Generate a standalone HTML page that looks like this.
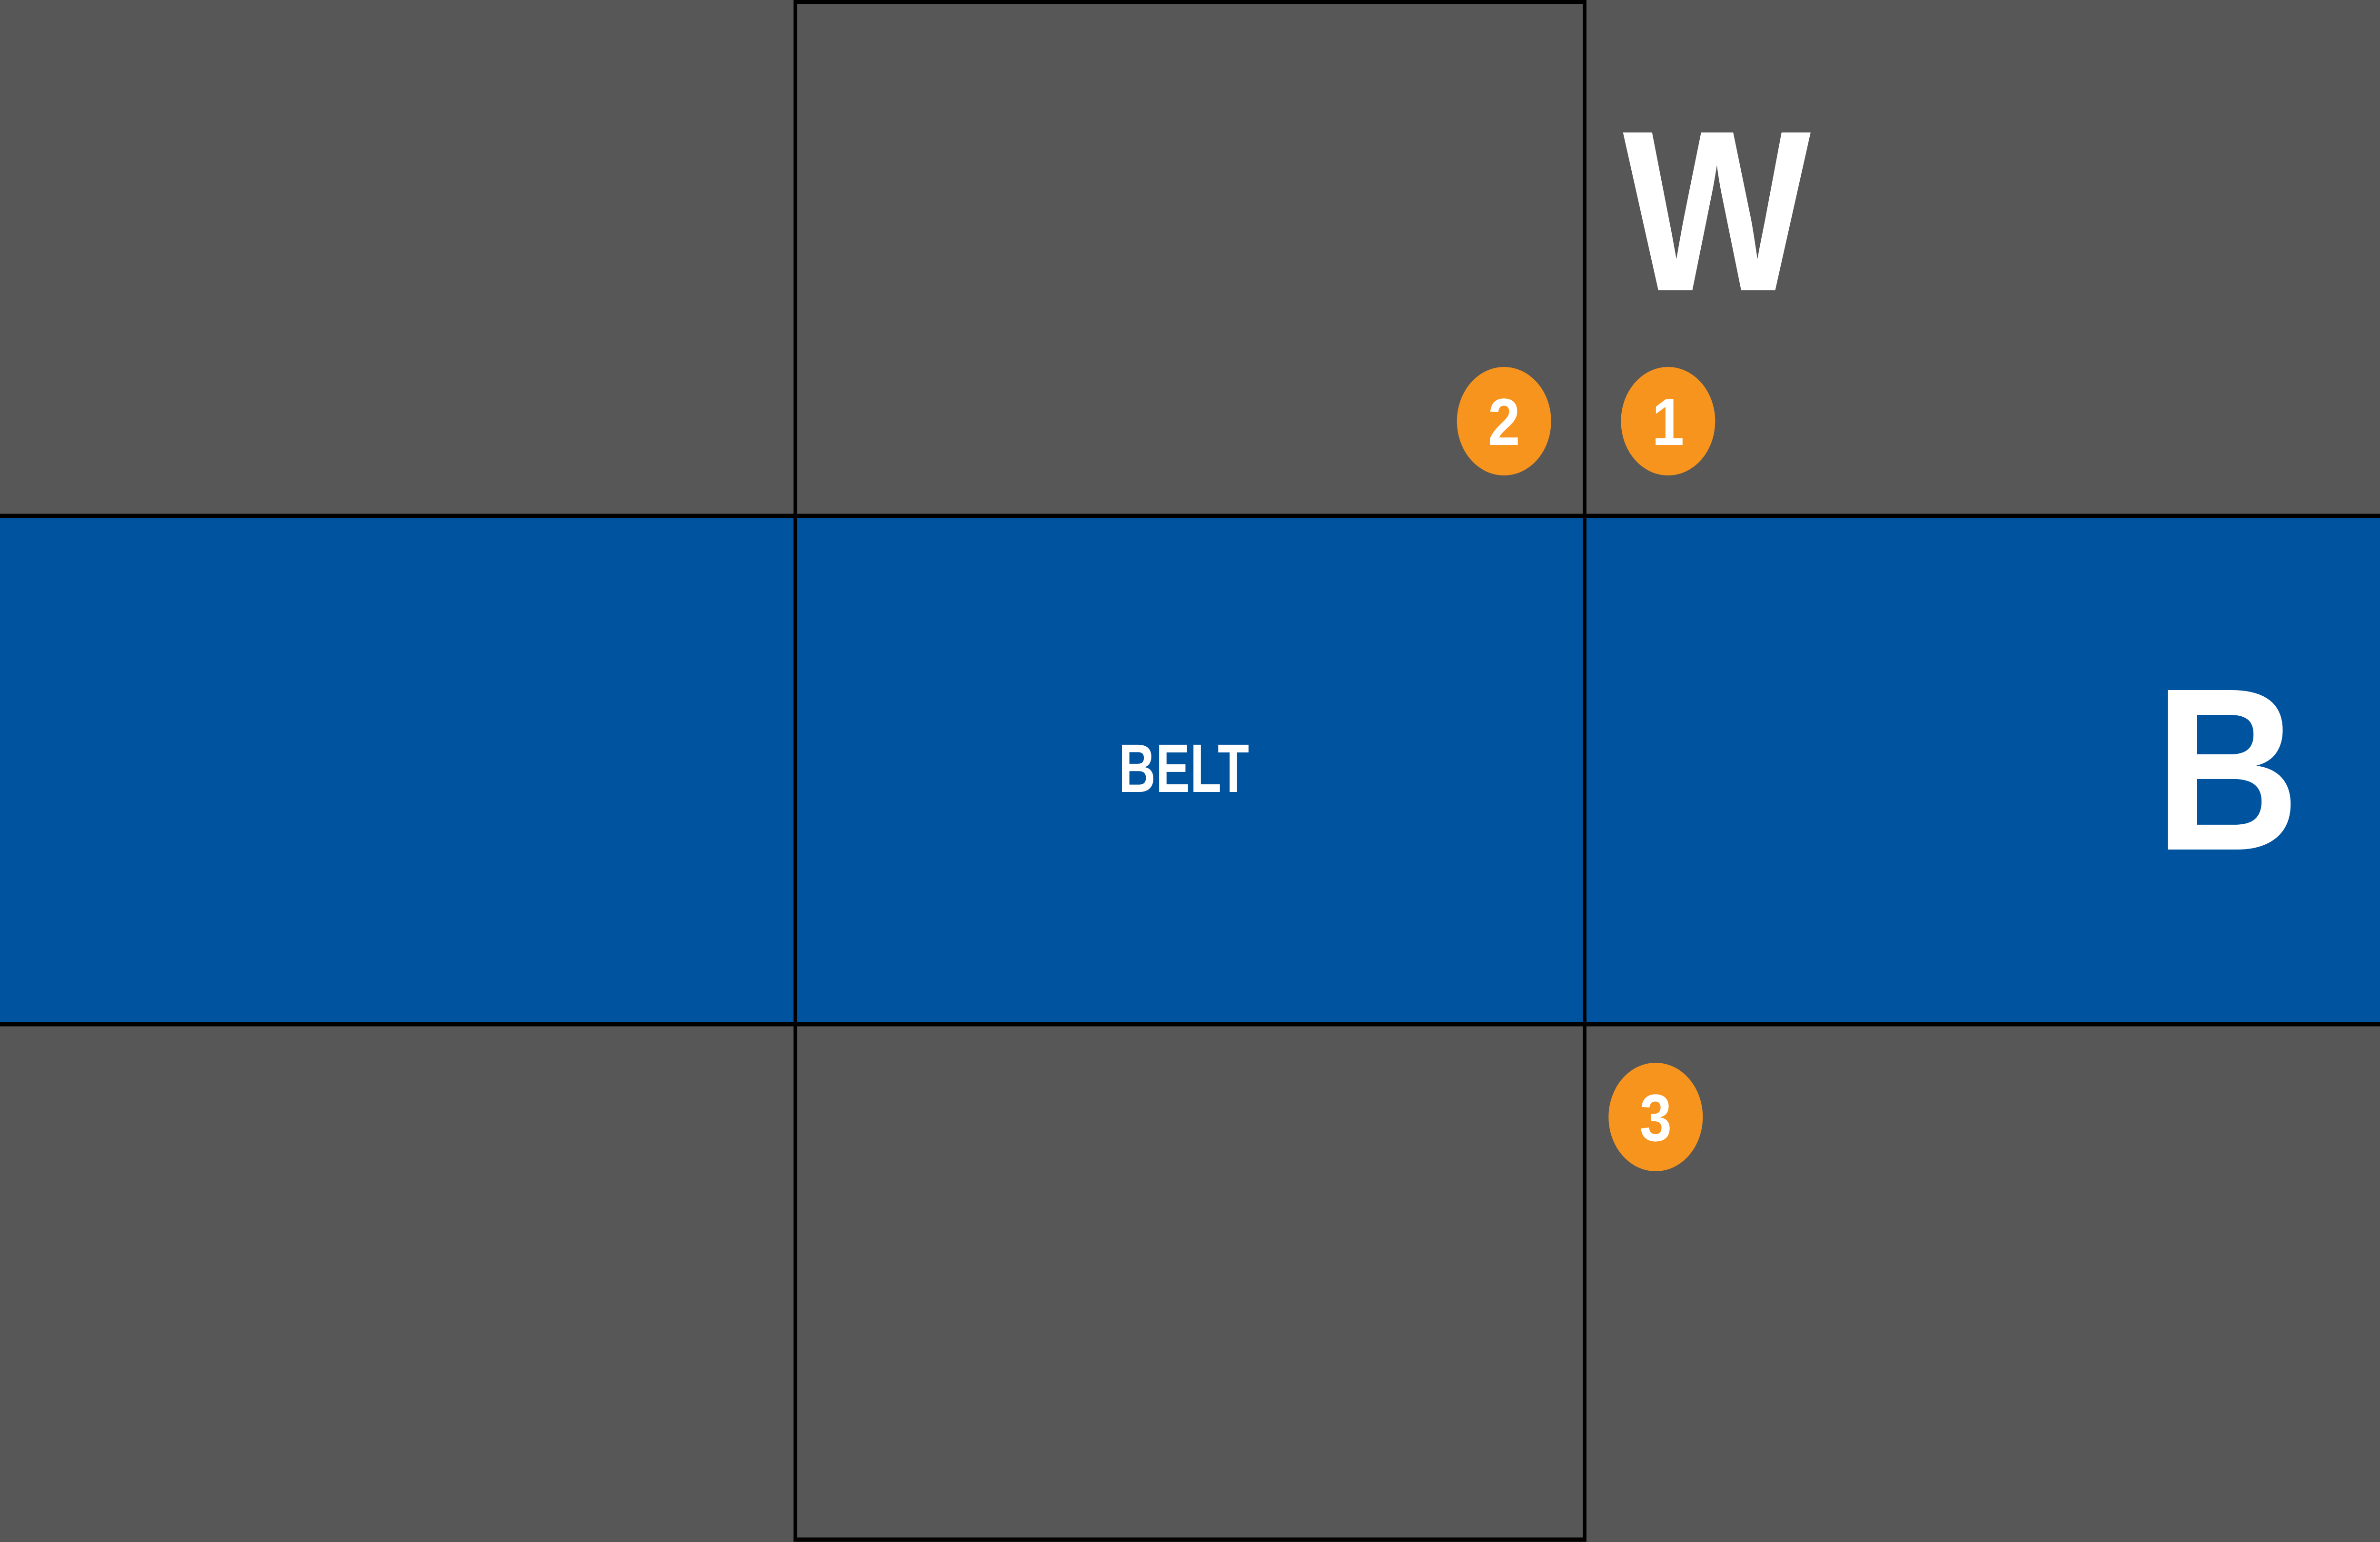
<!DOCTYPE html>
<html><head><meta charset="utf-8"><meta name="viewport" content="width=5760, initial-scale=1"><style>
html,body{margin:0;padding:0;background:#575757;width:100vw;height:100vh;overflow:hidden;}
svg{display:block;position:fixed;left:0;top:0;width:100vw;height:100vh}
</style></head>
<body>
<svg viewBox="0 0 5760 3240" preserveAspectRatio="none" xmlns="http://www.w3.org/2000/svg">
<rect x="0" y="0" width="5760" height="3240" fill="#575757"/>
<rect x="0" y="1084" width="5760" height="1068" fill="#00549f"/>
<g stroke="#000" stroke-width="9" fill="none">
<rect x="1925" y="4" width="1910" height="3231"/>
<line x1="0" y1="1084" x2="5760" y2="1084"/>
<line x1="0" y1="2152" x2="5760" y2="2152"/>
</g>
<g font-family="Liberation Sans, sans-serif" font-weight="bold" fill="#fff">
<text x="4155" y="610" font-size="482" text-anchor="middle">W</text>
<text x="5390" y="1785" font-size="487" text-anchor="middle">B</text>
<text x="2865" y="1664" font-size="144" text-anchor="middle" textLength="316" lengthAdjust="spacingAndGlyphs">BELT</text>
</g>
<g fill="#f7941d">
<circle cx="3640" cy="885" r="114"/>
<circle cx="4037" cy="885" r="114"/>
<circle cx="4007" cy="2347" r="114"/>
</g>
<g font-family="Liberation Sans, sans-serif" font-weight="bold" fill="#fff" font-size="140" text-anchor="middle">
<text x="3640" y="935">2</text>
<text x="4037" y="935">1</text>
<text x="4007" y="2397">3</text>
</g>
</svg>
</body></html>
